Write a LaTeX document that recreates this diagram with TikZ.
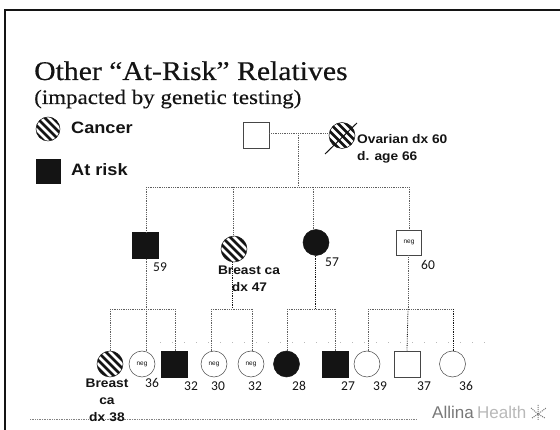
\documentclass[tikz,border=0pt]{standalone}
\usepackage{fontspec}
\setmainfont{Liberation Serif}
\setsansfont{Liberation Sans}
\newfontfamily\agefont{Carlito}
\newfontfamily\titlefont[FakeStretch=1.1,FakeBold=0.5]{Liberation Serif}
\newfontfamily\subfont[FakeStretch=1.12,FakeBold=0.3]{Liberation Serif}
\newfontfamily\labfont[FakeStretch=1.1]{Liberation Sans}
\usetikzlibrary{positioning,calc}
\definecolor{ink}{RGB}{20,20,20}
\definecolor{cEdge}{RGB}{70,70,70}
\definecolor{cLine}{RGB}{95,95,95}
\definecolor{cRule}{RGB}{130,130,130}
\definecolor{cLogo}{RGB}{120,120,120}
\definecolor{cLogoPale}{RGB}{185,185,185}

\begin{document}
\begin{tikzpicture}[
  x=1pt, y=-1pt,
  font=\sffamily,
  person/.style={draw=cEdge, line width=0.5pt, fill=white, inner sep=0pt, minimum size=26pt},
  male/.style={person, rectangle},
  female/.style={person, circle},
  risk/.style={fill=ink, draw=ink},
  cancer/.style={draw=ink, path picture={
    \draw[ink, line width=2.7pt] ($(path picture bounding box.center)+(-24,-24)$) -- ++(48,48);
    \draw[ink, line width=2.7pt] ($(path picture bounding box.center)+(-24,-32)$) -- ++(48,48);
    \draw[ink, line width=2.7pt] ($(path picture bounding box.center)+(-24,-16)$) -- ++(48,48);
    \draw[ink, line width=2.7pt] ($(path picture bounding box.center)+(-24,-40)$) -- ++(48,48);
    \draw[ink, line width=2.7pt] ($(path picture bounding box.center)+(-24,-8)$) -- ++(48,48);}},
  link/.style={draw=cLine, line width=0.8pt, densely dotted},
  lab/.style={font=\labfont\bfseries\fontsize{12.5}{14}\selectfont, text=ink, inner sep=0pt, align=center},
  legt/.style={font=\labfont\bfseries\fontsize{16.5}{17}\selectfont, text=ink, inner sep=0pt, anchor=west},
  age/.style={font=\agefont\fontsize{13.5}{14}\selectfont, text=ink, inner sep=0pt},
  neg/.style={font=\sffamily\fontsize{6.5}{7}\selectfont, text=ink, inner sep=0pt},
  logo/.style={anchor=base west, inner sep=0pt, font=\sffamily\fontsize{17}{18}\selectfont},
]
\useasboundingbox (0,0) rectangle (560,430);
\fill[white] (0,0) rectangle (560,430);

% ---- slide frame + footer ----
\coordinate (frameBL) at (5,430);
\coordinate (frameTL) at (5,10);
\coordinate (frameTR) at (560,10);
\draw[ink, line width=1.2pt] (frameBL) -- (frameTL) -- (frameTR);
\coordinate (ruleL) at (30,419);
\coordinate (ruleR) at (417,419);
\draw[cRule, line width=0.7pt, densely dotted] (ruleL) -- (ruleR);
\coordinate (specL) at (160,342);
\coordinate (specR) at (495,342);
\draw[cLogoPale, line width=0.7pt, dash pattern=on 1pt off 11pt] (specL) -- (specR);

% ---- title + legend ----
\node[anchor=base west, inner sep=0pt, font=\titlefont\fontsize{27}{28}\selectfont, text=ink] (TITLE) at (34,80) {Other “At-Risk” Relatives};
\node[anchor=base west, inner sep=0pt, font=\subfont\fontsize{20.5}{21}\selectfont, text=ink] (SUB) at (34,104) {(impacted by genetic testing)};

\node[female, cancer, minimum size=24pt] (LEGC) at (48,129) {};
\node[male, risk, minimum size=24pt] (LEGR) at (48,171) {};
\node[legt] (LEGCT) at (71,128) {Cancer};
\node[legt] (LEGRT) at (71,170) {At risk};

% ---- grandparents ----
\node[male] (GF) at (256,135.5) {};
\node[female, cancer] (GM) at (342,135.5) {};
\coordinate (DECa) at (325,154);
\coordinate (DECb) at (357,123);
\draw[ink, line width=1pt] (DECa) -- (DECb);
\node[lab, anchor=west] (GMa) at (357,139.5) {Ovarian dx 60};
\node[lab, anchor=west] (GMb) at (357,157) {d. age 66};

\coordinate (COUPLE) at (298,133);
\coordinate (SIB) at (298,187);
\draw[link] (GF.east |- COUPLE) -- (GM.west |- COUPLE);
\draw[link] (COUPLE) -- (SIB);

% ---- second generation ----
\node[male, risk] (A) at (145,245.5) {};
\node[female, cancer] (B) at (234,249) {};
\node[female, risk] (C) at (316,242.5) {};
\node[male, minimum size=25pt] (D) at (409,242.5) {};
\node[neg] (Dn) at (D) {neg};

\coordinate (SIBa) at (146,187);
\coordinate (SIBb) at (233,187);
\coordinate (SIBc) at (313,187);
\coordinate (SIBd) at (409,187);
\draw[link] (SIBa) -- (SIBd);
\draw[link] (SIBa) -- (A.north -| SIBa);
\draw[link] (SIBb) -- (B.north -| SIBb);
\draw[link] (SIBc) -- (C.north -| SIBc);
\draw[link] (SIBd) -- (D.north);

\node[age] (Aa) at (160,267) {59};
\node[lab] (Bt) at (249,270) {Breast ca};
\node[lab] (Bd) at (249.5,287) {dx 47};
\node[age] (Ca) at (332,262) {57};
\node[age] (Da) at (428,265) {60};

% ---- third generation: family A ----
\node[female, cancer] (A1) at (110,364) {};
\node[female] (A2) at (142,364) {};
\node[neg] (A2n) at (A2) {neg};
\node[male, risk] (A3) at (174.5,364) {};
\coordinate (AJ) at (146,309);
\coordinate (AL) at (110,309);
\coordinate (AR) at (175,309);
\draw[link] (A.south -| AJ) -- (AJ);
\draw[link] (A1.north |- AL) -- (AR);
\draw[link] (AL) -- (A1.north);
\draw[link] (AJ) -- (A2.north -| AJ);
\draw[link] (AR) -- (A3.north -| AR);
\node[lab, text width=60pt] (A1t) at (107,400.5) {Breast\\[3pt]ca\\[3pt]dx 38};
\node[age] (A2a) at (152,383) {36};
\node[age] (A3a) at (191,386) {32};

% ---- family B ----
\node[female] (B1) at (214,364) {};
\node[neg] (B1n) at (B1) {neg};
\node[female] (B2) at (251,364) {};
\node[neg] (B2n) at (B2) {neg};
\coordinate (BJ) at (232,309);
\coordinate (BL) at (211,309);
\coordinate (BR) at (252,309);
\draw[link, draw=ink] (B.south -| BJ) -- (BJ);
\draw[link] (BL) -- (BR);
\draw[link] (BL) -- (B1.north -| BL);
\draw[link] (BR) -- (B2.north -| BR);
\node[age] (B1a) at (218,386) {30};
\node[age] (B2a) at (255,386) {32};

% ---- family C ----
\node[female, risk] (C1) at (286.5,364) {};
\node[male, risk] (C2) at (335,364) {};
\coordinate (CJ) at (315,309);
\coordinate (CL) at (287,309);
\coordinate (CR) at (335,309);
\draw[link, draw=ink] (C.south -| CJ) -- (CJ);
\draw[link] (CL) -- (CR);
\draw[link] (CL) -- (C1.north -| CL);
\draw[link] (CR) -- (C2.north);
\node[age] (C1a) at (299,386) {28};
\node[age] (C2a) at (348,386) {27};

% ---- family D ----
\node[female] (D1) at (367,364) {};
\node[male] (D2) at (407,364) {};
\node[female] (D3) at (452.5,364) {};
\coordinate (DJ) at (408,309);
\coordinate (DL) at (368,309);
\coordinate (DR) at (453,309);
\draw[link] (D.south -| DJ) -- (DJ);
\draw[link] (DL) -- (DR);
\draw[link] (DL) -- (D1.north -| DL);
\draw[link, draw=ink] (DJ) -- (D2.north);
\draw[link, draw=ink] (DR) -- (D3.north -| DR);
\node[age] (D1a) at (380,386) {39};
\node[age] (D2a) at (424,386) {37};
\node[age] (D3a) at (466,386) {36};

% ---- logo ----
\node[logo, text=cLogo] (LOGOa) at (432,419) {Allina};
\node[logo, text=cLogoPale] (LOGOb) at (477,419) {Health};
\coordinate (LOGOc) at (538,414);
\coordinate (LOGOn) at (538,405);
\coordinate (LOGOs) at (538,420);
\coordinate (LOGOw) at (531,408);
\coordinate (LOGOe) at (546,408);
\coordinate (LOGOsw) at (532,418);
\coordinate (LOGOse) at (545,418);
\draw[cLogo, line width=1pt, densely dotted] (LOGOn) -- (LOGOs) (LOGOw) -- (LOGOc) -- (LOGOe) (LOGOsw) -- (LOGOc) -- (LOGOse);

\end{tikzpicture}
\end{document}
